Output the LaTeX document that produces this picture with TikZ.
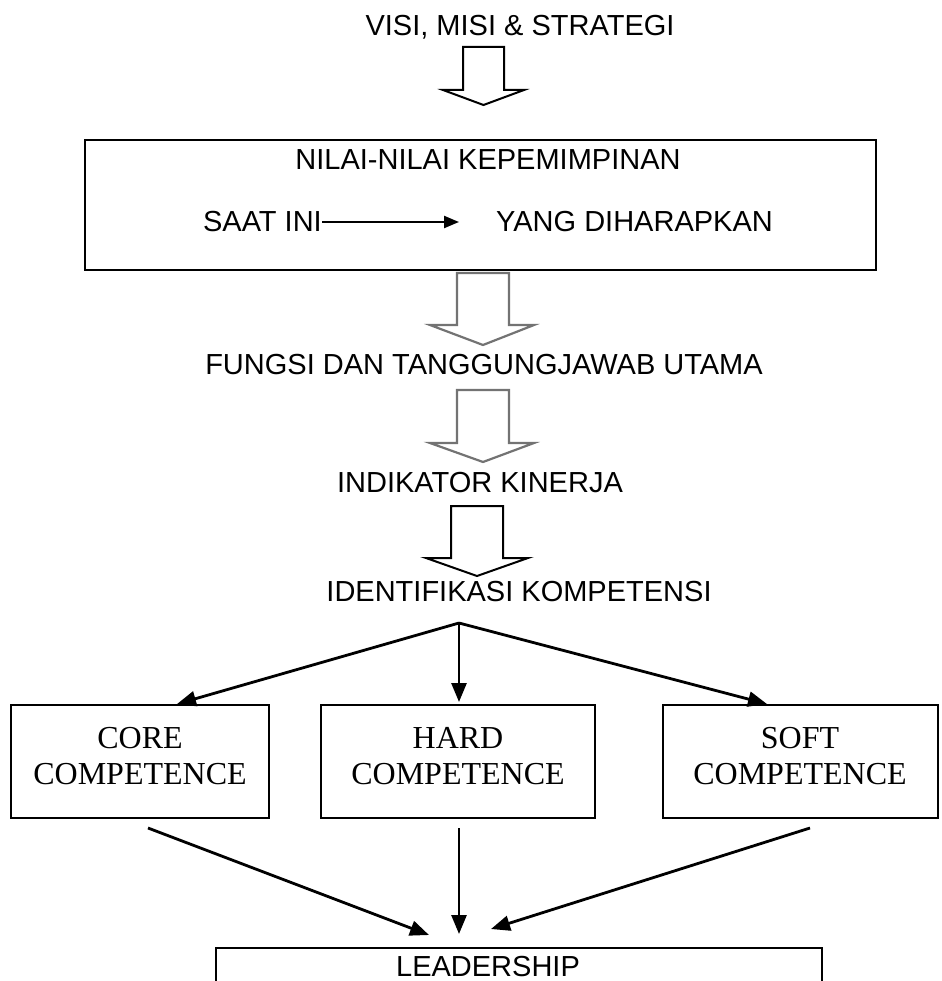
\documentclass[tikz,border=0pt]{standalone}
\usepackage{fontspec}
\setmainfont{Liberation Sans}
\newfontfamily\timesf{Liberation Serif}
\usetikzlibrary{arrows.meta}
\tikzset{
  lbl/.style={inner sep=0pt, font=\fontsize{29}{34}\selectfont},
  bigbox/.style={draw, line width=2.4pt},
  compbox/.style={draw, line width=2pt, inner sep=0pt},
  comptext/.style={inner sep=0pt, align=center, font=\timesf\fontsize{32}{36}\selectfont},
  conn/.style={line width=2.8pt, -{Triangle[length=19pt,width=15pt]}},
  hollow/.style={line width=2pt, line join=miter},
  hollowgray/.style={line width=2.2pt, draw=black!55, line join=miter}
}
\newcommand\hollowarrow[8]{%
  \draw[#8] (#1,#5) -- (#2,#5) -- (#2,#6) -- (#4,#6) -- ({(#1+#2)/2},#7) -- (#3,#6) -- (#1,#6) -- cycle;}
\begin{document}
\begin{tikzpicture}[x=1pt,y=-1pt]
\useasboundingbox (0,0) rectangle (941,981);
% top text
\node[lbl] (visi) at (520,27) {VISI, MISI \& STRATEGI};
\hollowarrow{463}{504}{443}{524}{47}{90}{105}{hollow}
% values box
\draw[bigbox] (85,140) rectangle (876,270);
\node[lbl] (nilai) at (488,160) {NILAI-NILAI KEPEMIMPINAN};
\node[lbl, anchor=east] (saat) at (322,222) {SAAT INI};
\node[lbl, anchor=west] (yang) at (496,222) {YANG DIHARAPKAN};
\coordinate (saatend) at (459,222);
\draw[line width=2.2pt, -{Triangle[length=15pt,width=12pt]}] (saat.east) -- (saatend);
% arrow 2
\hollowarrow{457}{509}{430}{534}{273}{325}{345}{hollowgray}
\node[lbl] (fungsi) at (484,365) {FUNGSI DAN TANGGUNGJAWAB UTAMA};
% arrow 3
\hollowarrow{457}{509}{430}{534}{390}{443}{462}{hollowgray}
\node[lbl] (indik) at (480,483) {INDIKATOR KINERJA};
% arrow 4
\hollowarrow{451}{503}{426}{528}{506}{558}{576}{hollow}
\node[lbl] (ident) at (519,592) {IDENTIFIKASI KOMPETENSI};
% competence boxes
\node[compbox, minimum width=258pt, minimum height=113pt] (core) at (140,761.5) {};
\node[compbox, minimum width=274pt, minimum height=113pt] (hard) at (458,761.5) {};
\node[compbox, minimum width=275pt, minimum height=113pt] (soft) at (800.5,761.5) {};
\node[comptext] (coret) at (140,756) {CORE\\COMPETENCE};
\node[comptext] (hardt) at (458,756) {HARD\\COMPETENCE};
\node[comptext] (softt) at (800,756) {SOFT\\COMPETENCE};
% branch arrows
\coordinate (br) at (459,623);
\coordinate (t1) at (177,704);
\coordinate (t2) at (459,702);
\coordinate (t3) at (767,704);
\draw[conn] (br) -- (t1);
\draw[conn] (br) -- (t2);
\draw[conn] (br) -- (t3);
% leadership
\draw[bigbox] (216,1010) -- (216,948) -- (822,948) -- (822,1010);
\node[lbl, anchor=base] (lead) at (488,976) {LEADERSHIP};
\coordinate (s1) at (148,828);
\coordinate (s2) at (459,828);
\coordinate (s3) at (810,828);
\coordinate (e1) at (429,935);
\coordinate (e2) at (459,934);
\coordinate (e3) at (491,929);
\draw[conn] (s1) -- (e1);
\draw[conn] (s2) -- (e2);
\draw[conn] (s3) -- (e3);
\end{tikzpicture}
\end{document}
